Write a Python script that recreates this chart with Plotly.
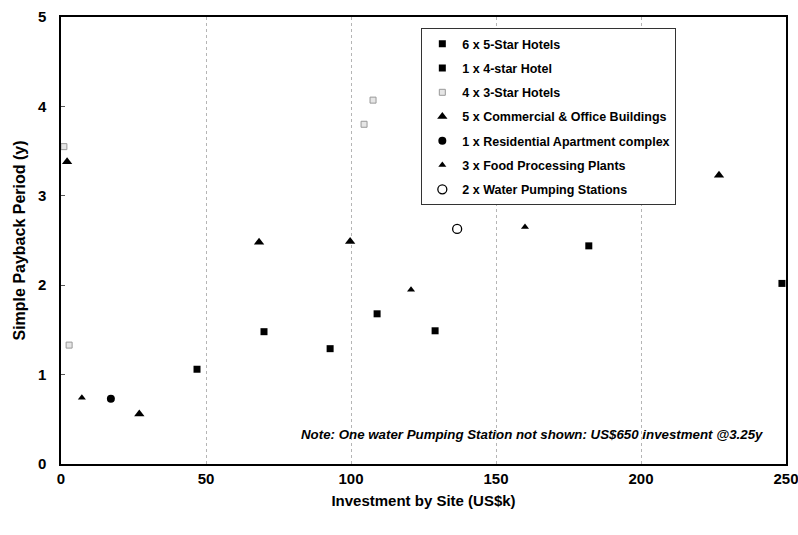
import plotly.graph_objects as go

FONT = "Arial Narrow, Liberation Sans Narrow, Liberation Sans, Arial, sans-serif"

# Data (Investment US$k, Simple payback years)
five_star_x = [46.9, 70.0, 92.8, 109.0, 129.0, 248.6]
five_star_y = [1.06, 1.48, 1.29, 1.68, 1.49, 2.02]
four_star_x = [182.0]
four_star_y = [2.44]
three_star_x = [1.0, 2.8, 104.5, 107.6]
three_star_y = [3.55, 1.33, 3.80, 4.07]
commercial_x = [2.1, 27.0, 68.3, 99.7, 226.9]
commercial_y = [3.38, 0.56, 2.48, 2.49, 3.23]
residential_x = [17.2]
residential_y = [0.73]
food_x = [7.2, 120.7, 160.0]
food_y = [0.74, 1.95, 2.65]
water_x = [136.6]
water_y = [2.63]

x_ticks = [0, 50, 100, 150, 200, 250]
y_ticks = [0, 1, 2, 3, 4, 5]

fig = go.Figure()

def add(name, xs, ys, symbol, size, color, line_color, line_width=0):
    fig.add_trace(go.Scatter(
        x=xs, y=ys, mode="markers", name=name, legendgroup=name,
        marker=dict(symbol=symbol, size=size, color=color,
                    line=dict(color=line_color, width=line_width)),
        cliponaxis=False,
    ))

add("6 x 5-Star Hotels", five_star_x, five_star_y, "square", 7, "black", "black")
add("1 x 4-star Hotel", four_star_x, four_star_y, "square", 7, "black", "black")
add("4 x 3-Star Hotels", three_star_x, three_star_y, "square", 6, "#e6e6e6", "#999999", 1)
add("5 x Commercial & Office Buildings", commercial_x, commercial_y, "triangle-up", 9, "black", "black")
add("1 x Residential Apartment complex", residential_x, residential_y, "circle", 8, "black", "black")
add("3 x Food Processing Plants", food_x, food_y, "triangle-up", 7, "black", "black")
add("2 x Water Pumping Stations", water_x, water_y, "circle", 9, "white", "black", 1.3)

fig.update_layout(
    width=798, height=535,
    margin=dict(l=61, r=12, t=17, b=71),
    paper_bgcolor="white", plot_bgcolor="white",
    font=dict(family=FONT, color="black", size=14),
    showlegend=True,
    legend=dict(
        x=0.497, y=0.975, xanchor="left", yanchor="top",
        bgcolor="white", bordercolor="#333333", borderwidth=1,
        font=dict(family=FONT, size=12.5, color="black", weight="bold"),
        tracegroupgap=5, itemwidth=30,
    ),
    xaxis=dict(
        range=[0, 250], tickvals=x_ticks, ticktext=[str(v) for v in x_ticks],
        showgrid=True, gridcolor="#b5b5b5", griddash="dot", gridwidth=1,
        showline=True, linecolor="black", linewidth=1.5, mirror=True,
        ticks="", zeroline=False, automargin=False, ticklabeloverflow="allow",
        tickfont=dict(family=FONT, size=15, weight="bold"),
        title=dict(text="Investment by Site (US$k)",
                   font=dict(family=FONT, size=15, weight="bold"), standoff=10),
    ),
    yaxis=dict(
        range=[0, 5], tickvals=y_ticks, ticktext=[str(v) for v in y_ticks],
        showgrid=False,
        showline=True, linecolor="black", linewidth=1.5, mirror=True,
        ticks="inside", ticklen=4, tickcolor="#555555", zeroline=False,
        automargin=False, ticklabelstandoff=10, ticklabeloverflow="allow",
        tickfont=dict(family=FONT, size=15, weight="bold"),
        title=dict(text="Simple Payback Period (y)",
                   font=dict(family=FONT, size=16, weight="bold"), standoff=8),
    ),
    annotations=[dict(
        x=0.971, y=0.065, xref="paper", yref="paper", xanchor="right", yanchor="middle",
        text="<i>Note: One water Pumping Station not shown: US$650 investment @3.25y</i>",
        showarrow=False, font=dict(family=FONT, size=13.3, weight="bold", color="black"),
    )],
)

fig.write_html(
    "out.html",
    config={"displayModeBar": False},
    post_script="document.body.style.margin='0px';document.body.style.overflow='hidden';",
)
